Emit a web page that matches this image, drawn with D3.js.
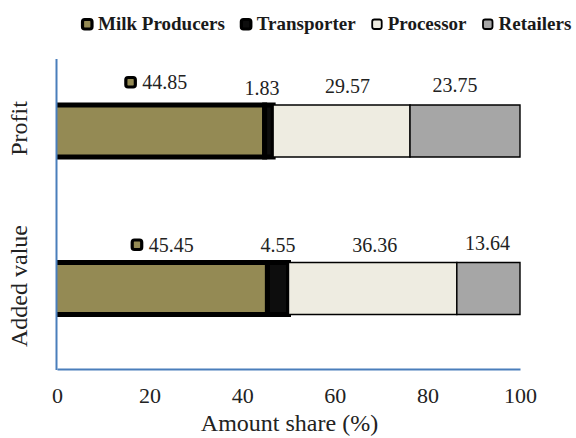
<!DOCTYPE html>
<html>
<head>
<meta charset="utf-8">
<script src="https://cdn.jsdelivr.net/npm/d3@7"></script>
</head>
<body style="margin:0;background:#fff">
<svg id="chart" width="576" height="438" style="display:block"></svg>
<script>
// Value chain shares (%) for each indicator
const categories = ["Profit", "Added value"];
const seriesNames = ["Milk Producers", "Transporter", "Processor", "Retailers"];
const milkProducers = [44.85, 45.45];
const transporter = [1.83, 4.55];
const processor = [29.57, 36.36];
const retailers = [23.75, 13.64];
const xTicks = [0, 20, 40, 60, 80, 100];

const seriesValues = [milkProducers, transporter, processor, retailers];

// Styling per series
const fills = ["#948a54", "#0d0d0d", "#eeece1", "#a6a6a6"];
const strokeW = [5, 5, 1.4, 1.4];
const legendStrokeW = [3.2, 3.2, 1.8, 1.8];
// Small hand placement of value labels (px), per category then series
const labelDx = [[-5, -7, 6, -10], [0, 0, 2, -1]];
const labelDy = [[-5, 1, -1, -2], [0, 0, 0, -2]];

const FONT = '"Liberation Serif"';
const svg = d3.select("#chart");
const axisColor = "#4a7ebb";

const plotTop = 59, plotBottom = 369;
const x = d3.scaleLinear().domain([0, 100]).range([57, 520]);
const y = d3.scaleBand().domain(categories).range([52.25, 367.25])
  .paddingInner(0.67).paddingOuter(0.335);

// Stack the series per category
const rows = categories.map((c, ci) => {
  let acc = 0;
  return seriesValues.map((vals, si) => {
    const v = vals[ci];
    const seg = { cat: c, ci, si, v, x0: acc, x1: acc + v };
    acc += v;
    return seg;
  });
});
const segs = rows.flat();

const gBars = svg.append("g");
segs.forEach(s => {
  const x0 = x(s.x0), x1 = x(s.x1), y0 = y(s.cat), y1 = y(s.cat) + y.bandwidth();
  gBars.append("rect")
    .attr("x", x0).attr("y", y0)
    .attr("width", x1 - x0).attr("height", y1 - y0)
    .attr("fill", fills[s.si]);
  // outline: left side of first segment sits on the axis, so it is left open
  const p = s.si === 0
    ? `M${x0},${y0}H${x1}V${y1}H${x0}`
    : `M${x0},${y0}H${x1}V${y1}H${x0}Z`;
  gBars.append("path")
    .attr("d", p)
    .attr("fill", "none")
    .attr("stroke", "#000")
    .attr("stroke-width", strokeW[s.si])
    .attr("stroke-linejoin", "miter");
});

// Axes
const xAxis = d3.axisBottom(x).tickValues(xTicks).tickSize(0).tickPadding(18.4)
  .tickFormat(d3.format("d"));
const gx = svg.append("g").attr("transform", `translate(0,${plotBottom})`).call(xAxis);
gx.attr("font-family", FONT).attr("font-size", 22);
gx.select(".domain").attr("stroke", axisColor).attr("stroke-width", 2);
gx.selectAll("text").style("font-family", FONT).attr("fill", "#222");

svg.append("line")
  .attr("x1", x(0) - 0.5).attr("x2", x(0) - 0.5)
  .attr("y1", plotTop).attr("y2", plotBottom + 1)
  .attr("stroke", axisColor).attr("stroke-width", 2);

function txt(g, size) {
  return g.append("text").attr("font-size", size).style("font-family", FONT).attr("fill", "#222");
}

// Category labels (rotated)
categories.forEach(c => {
  const cy = y(c) + y.bandwidth() / 2 - 2.5;
  txt(svg, 24)
    .attr("transform", `translate(27,${cy}) rotate(-90)`)
    .attr("text-anchor", "middle")
    .text(c);
});

// Axis title
txt(svg, 24)
  .attr("x", (x(0) + x(100)) / 2 + 1)
  .attr("y", 431)
  .attr("text-anchor", "middle")
  .text("Amount share (%)");

// Legend key marker
function key(g, si, kx, ky, size) {
  g.append("rect")
    .attr("x", kx).attr("y", ky)
    .attr("width", size).attr("height", size)
    .attr("rx", 2.2)
    .attr("fill", fills[si])
    .attr("stroke", "#000")
    .attr("stroke-width", legendStrokeW[si]);
}

// Value labels
const gLab = svg.append("g");
segs.forEach(s => {
  const cx = x((s.x0 + s.x1) / 2) + labelDx[s.ci][s.si];
  const base = y(s.cat) - 11 + labelDy[s.ci][s.si];
  const label = s.v.toFixed(2);
  const t = txt(gLab, 20)
    .attr("y", base)
    .text(label);
  if (s.si === 0) {
    const w = t.node().getComputedTextLength();
    const total = 11 + 7 + w;
    const left = cx - total / 2;
    key(gLab, 0, left + 1.5, base - 11.5, 9.5);
    t.attr("x", left + 18).attr("text-anchor", "start");
  } else {
    t.attr("x", cx).attr("text-anchor", "middle");
  }
});

// Legend
const gLeg = svg.append("g");
let lx = 81;
seriesNames.forEach((name, si) => {
  key(gLeg, si, lx + 1.5, 19.5, 9.5);
  const t = txt(gLeg, 19)
    .attr("x", lx + 17)
    .attr("y", 30)
    .attr("font-weight", "bold")
    .attr("fill", "#1a1a1a")
    .text(name);
  lx = lx + 17 + t.node().getComputedTextLength() + 15;
});
</script>
</body>
</html>
